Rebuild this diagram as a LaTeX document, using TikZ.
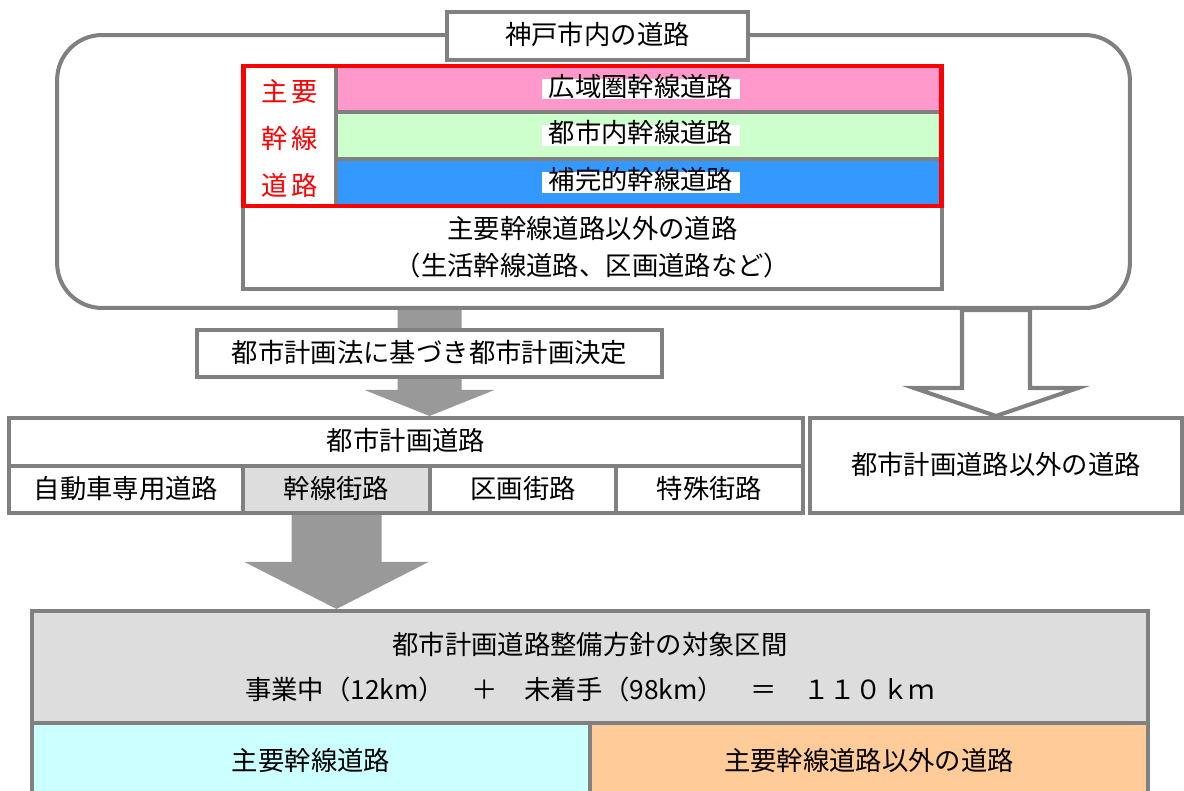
\documentclass[tikz,border=0pt]{standalone}
\usepackage{fontspec}
\newfontfamily\jp{Noto Sans CJK JP}
\usetikzlibrary{calc,backgrounds}

\definecolor{linegray}{RGB}{128,128,128}
\definecolor{arrowgray}{RGB}{153,153,153}
\definecolor{pinkbar}{RGB}{255,153,204}
\definecolor{greenbar}{RGB}{204,255,204}
\definecolor{bluebar}{RGB}{51,153,255}
\definecolor{lightgray}{RGB}{221,221,221}
\definecolor{cyanbox}{RGB}{204,255,255}
\definecolor{orangebox}{RGB}{255,204,153}

\tikzset{
  every node/.style={font=\jp\fontsize{15}{18}\selectfont},
  low/.style={text height=1.0em, text depth=0.02em},
  graybox/.style={draw=linegray, line width=2.3pt, fill=white, inner sep=0pt},
  tag/.style={fill=white, inner xsep=0.14cm, inner ysep=0.02cm, text height=0.92em, text depth=0.12em},
  redtxt/.style={text=red, inner sep=0pt, low},
  solidarrow/.style={fill=arrowgray},
  hollowarrow/.style={draw=linegray, line width=2.3pt, fill=white}
}

% block arrow: style, start, tip, stem half width, head half width, head length
\newcommand{\blockarrow}[6]{%
  \path[#1] ($(#2)+(-#4,0)$) -- ($(#3)+(-#4,-#6)$) -- ($(#3)+(-#5,-#6)$) -- (#3)
    -- ($(#3)+(#5,-#6)$) -- ($(#3)+(#4,-#6)$) -- ($(#2)+(#4,0)$) -- cycle;}

\begin{document}
\begin{tikzpicture}[x=0.02cm,y=-0.02cm]
\useasboundingbox (0,0) rectangle (1184,791);

% roads in the city
\node[graybox, rounded corners=0.9cm, minimum width=21.46cm, minimum height=5.46cm] (outer) at (593.5,171.5) {};
\node[graybox, low, minimum width=6.02cm, minimum height=0.96cm] (title) at (597.5,36) {神戸市内の道路};
\node[graybox, fill=pinkbar, minimum width=12.12cm, minimum height=0.92cm] (wide) at (639,89) {};
\node[graybox, fill=greenbar, minimum width=12.12cm, minimum height=0.94cm] (inner) at (639,135.5) {};
\node[graybox, fill=bluebar, minimum width=12.12cm, minimum height=0.94cm] (supp) at (639,182.5) {};
\node[tag] at ($(wide)+(2,0)$) {広域圏幹線道路};
\node[tag] at ($(inner)+(2,0)$) {都市内幹線道路};
\node[tag] at ($(supp)+(2,0)$) {補完的幹線道路};
\node[graybox, align=center, minimum width=13.98cm, minimum height=1.66cm,
  font=\jp\fontsize{15}{21}\selectfont] (others) at (592.5,247.5) {主要幹線道路以外の道路\\（生活幹線道路、区画道路など）};
\node[draw=red, line width=2.8pt, inner sep=0pt, minimum width=13.98cm, minimum height=2.80cm] (major) at (592.5,136) {};
\node[redtxt] (m1) at (290,93) {主\hspace{2pt}要};
\node[redtxt] (m2) at (290,140) {幹\hspace{2pt}線};
\node[redtxt] (m3) at (290,187) {道\hspace{2pt}路};

% city planning decision
\node[graybox, low, minimum width=9.30cm, minimum height=0.94cm] (plan) at (429.5,353.5) {都市計画法に基づき都市計画決定};

% city planning roads
\node[graybox, low, minimum width=15.88cm, minimum height=0.96cm] (cpr) at (406,442) {都市計画道路};
\node[graybox, low, minimum width=4.68cm, minimum height=0.94cm] (motorway) at (126,489.5) {自動車専用道路};
\node[graybox, low, fill=lightgray, minimum width=3.74cm, minimum height=0.94cm] (artery) at (336.5,489.5) {幹線街路};
\node[graybox, low, minimum width=3.72cm, minimum height=0.94cm] (local) at (523,489.5) {区画街路};
\node[graybox, low, minimum width=3.74cm, minimum height=0.94cm] (special) at (709.5,489.5) {特殊街路};
\node[graybox, low, minimum width=7.44cm, minimum height=1.90cm] (other) at (996,465.5) {都市計画道路以外の道路};

% target sections
\node[graybox, fill=lightgray, align=center, minimum width=22.32cm, minimum height=2.24cm,
  font=\jp\fontsize{15}{26}\selectfont] (target) at (590,667) {都市計画道路整備方針の対象区間\\事業中（12km）　＋　未着手（98km）　＝　１１０ｋｍ};
\node[graybox, low, fill=cyanbox, minimum width=11.16cm, minimum height=1.54cm] (mainroad) at (311,761.5) {主要幹線道路};
\node[graybox, low, fill=orangebox, minimum width=11.16cm, minimum height=1.54cm] (minorroad) at (869,761.5) {主要幹線道路以外の道路};

% arrows
\coordinate (a1) at (plan |- outer.south);
\coordinate (t1) at (plan |- cpr.north);
\coordinate (a2) at (other.north |- outer.south);
\coordinate (a3) at (artery.south);
\coordinate (t3) at (artery |- target.north);
\begin{scope}[on background layer]
\blockarrow{solidarrow}{a1}{t1}{32}{65}{26}
\blockarrow{hollowarrow}{a2}{other.north}{34}{82}{28}
\blockarrow{solidarrow}{a3}{t3}{45}{92}{47}
\end{scope}
\end{tikzpicture}
\end{document}
